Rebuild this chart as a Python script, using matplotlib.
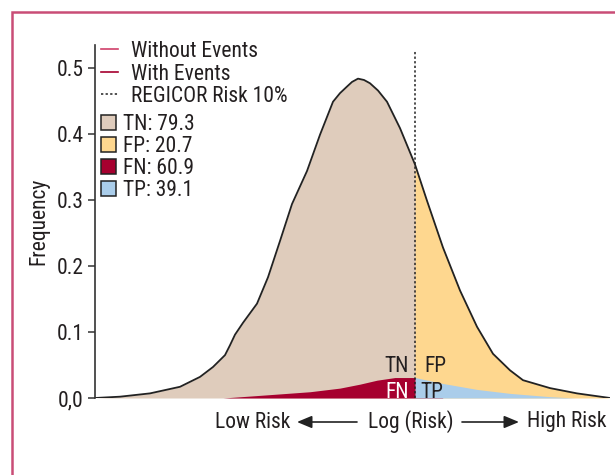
import numpy as np
import matplotlib
matplotlib.use("Agg")
import matplotlib.pyplot as plt
from matplotlib.lines import Line2D
from matplotlib.patches import Patch, Rectangle, FancyArrowPatch

# risk position (arbitrary log-risk units) and frequency
pos_all = [0, 25, 55, 85, 105, 118, 130, 135, 140, 148, 162, 173, 185, 197, 212,
           225, 238, 245, 252, 257, 263, 269, 275, 283, 292, 305, 320, 332, 348,
           365, 382, 398, 415, 428, 455, 482, 515]
freq_all = [0.0, 0.002, 0.007, 0.017, 0.032, 0.047, 0.065, 0.080, 0.096, 0.114,
            0.143, 0.183, 0.238, 0.294, 0.344, 0.399, 0.449, 0.462, 0.472, 0.479,
            0.484, 0.482, 0.477, 0.466, 0.449, 0.409, 0.354, 0.299, 0.228, 0.163,
            0.108, 0.067, 0.042, 0.027, 0.015, 0.007, 0.0]

pos_ev = [128, 165, 215, 245, 265, 282, 300, 320, 348, 382, 415, 455, 480]
freq_ev = [0.0, 0.004, 0.0095, 0.015, 0.021, 0.027, 0.031, 0.031, 0.022, 0.013,
           0.007, 0.002, 0.0]

cutoff = 320  # REGICOR risk 10%
legend_counts = {"TN": 79.3, "FP": 20.7, "FN": 60.9, "TP": 39.1}

c_tn = "#dfccbc"
c_fp = "#fed78f"
c_fn = "#a6002f"
c_tp = "#aacdea"
c_text = "#231f20"

plt.rcParams["font.family"] = ["Roboto Condensed", "Roboto", "DejaVu Sans"]
plt.rcParams["font.size"] = 15.5

fig = plt.figure(figsize=(6.15, 4.75), dpi=100)
ax = fig.add_axes([95 / 615, 77 / 475, 515 / 615, 353 / 475])

x = np.array(pos_all, dtype=float)
y = np.array(freq_all)
xe = np.array(pos_ev, dtype=float)
ye = np.array(freq_ev)

ax.fill_between(x, 0, y, where=x <= cutoff, color=c_tn, lw=0, interpolate=True)
ax.fill_between(x, 0, y, where=x >= cutoff, color=c_fp, lw=0, interpolate=True)
ax.fill_between(xe, 0, ye, where=xe <= cutoff, color=c_fn, lw=0, interpolate=True)
ax.fill_between(xe, 0, ye, where=xe >= cutoff, color=c_tp, lw=0, interpolate=True)
ax.plot(x, y, color="#222222", lw=1.3, solid_joinstyle="round")
ax.plot([cutoff, cutoff], [0, 0.528], color="#222222", lw=1.1, ls=(0, (1.5, 1.5)))

ax.text(cutoff - 6, 0.047, "TN", ha="right", va="center", color=c_text)
ax.text(cutoff + 9, 0.047, "FP", ha="left", va="center", color=c_text)
ax.text(cutoff - 6, 0.009, "FN", ha="right", va="center", color="white")
ax.text(cutoff + 5, 0.009, "TP", ha="left", va="center", color=c_text)

ax.set_xlim(0, 515)
ax.set_ylim(0, 0.535)
ax.set_yticks([0, 0.1, 0.2, 0.3, 0.4, 0.5])
ax.set_yticklabels(["0,0", "0.1", "0.2", "0.3", "0.4", "0.5"])
ax.set_xticks([])
for s in ["top", "right", "bottom"]:
    ax.spines[s].set_visible(False)
ax.spines["left"].set_color("#333333")
ax.spines["left"].set_linewidth(1.2)
ax.spines["left"].set_bounds(0, 0.535)
ax.tick_params(axis="y", length=5, width=1.1, color="#333333", labelcolor=c_text, pad=3)
ax.set_ylabel("Frequency", color=c_text, labelpad=5)
ax.patch.set_alpha(0)

h1 = [Line2D([], [], color="#d0406a", lw=1.2),
      Line2D([], [], color="#a6002f", lw=1.2),
      Line2D([], [], color="#222222", lw=1.1, ls=(0, (1.5, 1.5)))]
leg1 = ax.legend(h1, ["Without Events", "With Events", "REGICOR Risk 10%"],
                 loc="upper left", bbox_to_anchor=(101 / 615, 1 - 41 / 475),
                 bbox_transform=fig.transFigure, frameon=False, borderpad=0,
                 borderaxespad=0, handlelength=0.8, handletextpad=0.6,
                 labelspacing=0.07, labelcolor=c_text)
ax.add_artist(leg1)

h2 = [Patch(facecolor=c, edgecolor="#222222", lw=1.1) for c in [c_tn, c_fp, c_fn, c_tp]]
ax.legend(h2, [f"{k}: {v}" for k, v in legend_counts.items()],
          loc="upper left", bbox_to_anchor=(101 / 615, 1 - 114 / 475),
          bbox_transform=fig.transFigure, frameon=False, borderpad=0,
          borderaxespad=0, handlelength=0.7, handleheight=0.7,
          handletextpad=0.3, labelspacing=0.05, labelcolor=c_text)

# x-axis description with arrows
fy = 1 - 422 / 475
fig.text(253 / 615, fy, "Low Risk", ha="center", va="center", color=c_text)
fig.text(411 / 615, fy, "Log (Risk)", ha="center", va="center", color=c_text)
fig.text(567 / 615, fy, "High Risk", ha="center", va="center", color=c_text)
arrow = dict(arrowstyle="-|>,head_length=0.6,head_width=0.25", color="#222222", lw=1.2,
             shrinkA=0, shrinkB=0, mutation_scale=15, transform=fig.transFigure)
fig.add_artist(FancyArrowPatch((357 / 615, fy), (297 / 615, fy), **arrow))
fig.add_artist(FancyArrowPatch((462 / 615, fy), (519 / 615, fy), **arrow))

# pink frame around the figure
fig.add_artist(Rectangle((12 / 615, -0.1), 1.2, 1 - 12 / 475 + 0.1, transform=fig.transFigure,
                         fill=False, edgecolor="#c94d76", lw=1.8))

fig.savefig("out.png", dpi=100)
